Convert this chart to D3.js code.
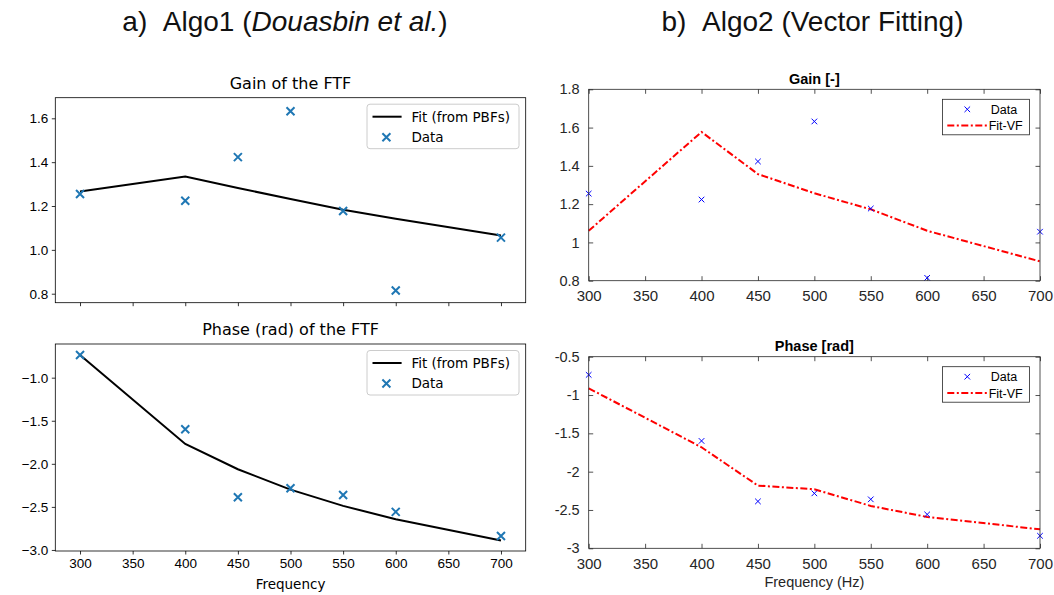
<!DOCTYPE html>
<html><head><meta charset="utf-8">
<script src="https://cdn.jsdelivr.net/npm/d3@7"></script>
<style>body{margin:0;background:#fff} svg{display:block}</style>
</head><body><svg id="c" width="1054" height="595"></svg>
<script>
// ---------------- data ----------------
const freqs = [300, 400, 450, 500, 550, 600, 700];
const gainData = [1.255, 1.224, 1.423, 1.632, 1.177, 0.815, 1.056];
const phaseData = [-0.737, -1.599, -2.388, -2.283, -2.361, -2.558, -2.837];
const gainFitPBF = [1.266, 1.335, 1.282, 1.232, 1.183, 1.142, 1.065];
const phaseFitPBF = [-0.737, -1.770, -2.063, -2.300, -2.488, -2.643, -2.890];
const gainFitVF = [1.061, 1.577, 1.357, 1.257, 1.173, 1.061, 0.901];
const phaseFitVF = [-0.912, -1.682, -2.182, -2.230, -2.447, -2.591, -2.752];
const freqTicks = [300, 350, 400, 450, 500, 550, 600, 650, 700];
const gainTicksL = [0.8, 1.0, 1.2, 1.4, 1.6];
const phaseTicksL = [-3.0, -2.5, -2.0, -1.5, -1.0];
const gainTicksR = [0.8, 1, 1.2, 1.4, 1.6, 1.8];
const phaseTicksR = [-3, -2.5, -2, -1.5, -1, -0.5];
const legendLeft = ["Fit (from PBFs)", "Data"];
const legendRight = ["Data", "Fit-VF"];

// ---------------- drawing ----------------
const svg = d3.select("#c");
const xPath = s => `M${-s},${-s}L${s},${s}M${-s},${s}L${s},${-s}`;

// main titles
const t1 = svg.append("text").attr("x", 285).attr("y", 31).attr("text-anchor", "middle")
  .style("font-family", "Liberation Sans, Arial, sans-serif").style("font-size", "28px").attr("fill", "#111");
t1.append("tspan").text("a)\u00A0\u00A0Algo1 (");
t1.append("tspan").style("font-style", "italic").text("Douasbin et al.");
t1.append("tspan").text(")");
svg.append("text").attr("x", 812.5).attr("y", 31).attr("text-anchor", "middle")
  .style("font-family", "Liberation Sans, Arial, sans-serif").style("font-size", "28px").attr("fill", "#111")
  .text("b)\u00A0\u00A0Algo2 (Vector Fitting)");

// ---------- matplotlib-style panels (left) ----------
function mplPanel(o) {
  const g = svg.append("g").style("font-family", "DejaVu Sans, sans-serif");
  const x = d3.scaleLinear().domain([276.5, 723.5]).range([55.3, 525.7]);
  const y = d3.scaleLinear().domain(o.ydom).range([o.bottom, o.top]);
  const ya = g.append("g").attr("transform", `translate(${x.range()[0]},0)`)
    .call(d3.axisLeft(y).tickValues(o.yticks).tickFormat(d3.format(".1f")).tickSize(3.5).tickPadding(3.5).tickSizeOuter(0));
  const xa = g.append("g").attr("transform", `translate(0,${o.bottom})`)
    .call(d3.axisBottom(x).tickValues(freqTicks).tickFormat(o.xlabels ? d3.format("d") : "").tickSize(3.5).tickPadding(3.5).tickSizeOuter(0));
  [ya, xa].forEach(a => {
    a.select(".domain").remove();
    a.selectAll("line").attr("stroke", "#000").attr("stroke-width", 0.8);
    a.selectAll("text").style("font-size", "13.5px").attr("fill", "#000");
  });
  g.append("path").datum(freqs.map((f, i) => [f, o.fit[i]]))
    .attr("d", d3.line().x(d => x(d[0])).y(d => y(d[1])))
    .attr("fill", "none").attr("stroke", "#000").attr("stroke-width", 2);
  g.selectAll(".m").data(freqs.map((f, i) => [f, o.data[i]])).join("path")
    .attr("transform", d => `translate(${x(d[0])},${y(d[1])})`)
    .attr("d", xPath(4)).attr("stroke", "#1f77b4").attr("stroke-width", 2).attr("fill", "none");
  g.append("rect").attr("x", x.range()[0]).attr("y", o.top)
    .attr("width", x.range()[1] - x.range()[0]).attr("height", o.bottom - o.top)
    .attr("fill", "none").attr("stroke", "#000").attr("stroke-width", 0.8);
  g.append("text").attr("x", (x.range()[0] + x.range()[1]) / 2).attr("y", o.top - 9)
    .attr("text-anchor", "middle").style("font-size", "16px").attr("fill", "#000").text(o.title);
  if (o.xlabels) {
    g.append("text").attr("x", (x.range()[0] + x.range()[1]) / 2).attr("y", 589)
      .attr("text-anchor", "middle").style("font-size", "13.5px").attr("fill", "#000").text("Frequency");
  }
  const L = o.top + 6.5;
  const lg = g.append("g");
  lg.append("rect").attr("x", 367).attr("y", L).attr("width", 152).attr("height", 44.5)
    .attr("rx", 3).attr("fill", "#fff").attr("fill-opacity", 0.8).attr("stroke", "#cccccc").attr("stroke-width", 1);
  lg.append("line").attr("x1", 372.5).attr("x2", 401.6).attr("y1", L + 12.5).attr("y2", L + 12.5)
    .attr("stroke", "#000").attr("stroke-width", 2);
  lg.append("path").attr("transform", `translate(386.4,${L + 33})`).attr("d", xPath(4))
    .attr("stroke", "#1f77b4").attr("stroke-width", 2);
  lg.selectAll("text").data(legendLeft).join("text")
    .attr("x", 411.4).attr("y", (d, i) => L + 12.5 + i * 20.5).attr("dy", "0.36em")
    .style("font-size", "13.5px").attr("fill", "#000").text(d => d);
}

mplPanel({ top: 97.7, bottom: 302.7, ydom: [0.759, 1.694], yticks: gainTicksL,
  fit: gainFitPBF, data: gainData, title: "Gain of the FTF", xlabels: false });
mplPanel({ top: 344, bottom: 551, ydom: [-3.012, -0.609], yticks: phaseTicksL,
  fit: phaseFitPBF, data: phaseData, title: "Phase (rad) of the FTF", xlabels: true });

// ---------- MATLAB-style panels (right) ----------
function matPanel(o) {
  const g = svg.append("g").style("font-family", "Liberation Sans, Arial, sans-serif");
  const x = d3.scaleLinear().domain([300, 700]).range([588.7, 1040]);
  const y = d3.scaleLinear().domain(o.ydom).range([o.bottom, o.top]);
  const col = "#262626";
  const fmt = d => String(+d.toFixed(2));
  const ax = [
    g.append("g").attr("transform", `translate(${x.range()[0]},0)`)
      .call(d3.axisLeft(y).tickValues(o.yticks).tickFormat(fmt).tickSizeInner(-4.5).tickSizeOuter(0).tickPadding(9)),
    g.append("g").attr("transform", `translate(${x.range()[1]},0)`)
      .call(d3.axisRight(y).tickValues(o.yticks).tickFormat("").tickSizeInner(-4.5).tickSizeOuter(0)),
    g.append("g").attr("transform", `translate(0,${o.bottom})`)
      .call(d3.axisBottom(x).tickValues(freqTicks).tickFormat(fmt).tickSizeInner(-4.5).tickSizeOuter(0).tickPadding(10)),
    g.append("g").attr("transform", `translate(0,${o.top})`)
      .call(d3.axisTop(x).tickValues(freqTicks).tickFormat("").tickSizeInner(-4.5).tickSizeOuter(0))
  ];
  ax.forEach((a, i) => {
    a.select(".domain").remove();
    a.selectAll("line").attr("stroke", col).attr("stroke-width", 0.8);
    a.selectAll("text").style("font-size", i === 2 ? "15px" : "14.5px").attr("fill", col);
  });
  g.append("path").datum(freqs.map((f, i) => [f, o.fit[i]]))
    .attr("d", d3.line().x(d => x(d[0])).y(d => y(d[1])))
    .attr("fill", "none").attr("stroke", "#ff0000").attr("stroke-width", 2)
    .attr("stroke-dasharray", "7,2.5,2,2.5");
  g.selectAll(".m").data(freqs.map((f, i) => [f, o.data[i]])).join("path")
    .attr("transform", d => `translate(${x(d[0])},${y(d[1])})`)
    .attr("d", xPath(2.8)).attr("stroke", "#0000ff").attr("stroke-width", 1).attr("fill", "none");
  g.append("rect").attr("x", x.range()[0]).attr("y", o.top)
    .attr("width", x.range()[1] - x.range()[0]).attr("height", o.bottom - o.top)
    .attr("fill", "none").attr("stroke", col).attr("stroke-width", 0.8);
  g.append("text").attr("x", (x.range()[0] + x.range()[1]) / 2).attr("y", o.top - 5.5)
    .attr("text-anchor", "middle").style("font-size", "14.5px").style("font-weight", "bold")
    .attr("fill", "#000").text(o.title);
  if (o.xlabels) {
    g.append("text").attr("x", (x.range()[0] + x.range()[1]) / 2).attr("y", 587)
      .attr("text-anchor", "middle").style("font-size", "14.5px").attr("fill", col).text("Frequency (Hz)");
  }
  const L = o.top + 10;
  const lg = g.append("g");
  lg.append("rect").attr("x", 942.5).attr("y", L).attr("width", 87).attr("height", 35.5)
    .attr("fill", "#fff").attr("stroke", col).attr("stroke-width", 0.8);
  lg.append("path").attr("transform", `translate(967.3,${L + 10})`).attr("d", xPath(2.8))
    .attr("stroke", "#0000ff").attr("stroke-width", 1);
  lg.append("line").attr("x1", 947.3).attr("x2", 987.3).attr("y1", L + 26.3).attr("y2", L + 26.3)
    .attr("stroke", "#ff0000").attr("stroke-width", 2).attr("stroke-dasharray", "7,2.5,2,2.5");
  lg.selectAll("text").data(legendRight).join("text")
    .attr("x", (d, i) => i === 0 ? 990.7 : 988.7).attr("y", (d, i) => L + 10 + i * 16.3).attr("dy", "0.36em")
    .style("font-size", "12.5px").attr("fill", "#000").text(d => d);
}

matPanel({ top: 89.3, bottom: 280.7, ydom: [0.8, 1.8], yticks: gainTicksR,
  fit: gainFitVF, data: gainData, title: "Gain [-]", xlabels: false });
matPanel({ top: 356.7, bottom: 548.3, ydom: [-3, -0.5], yticks: phaseTicksR,
  fit: phaseFitVF, data: phaseData, title: "Phase [rad]", xlabels: true });
</script>
</body></html>
